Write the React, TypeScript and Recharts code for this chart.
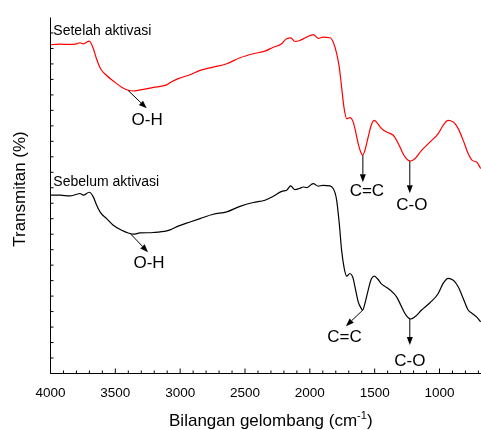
import React from 'react';
import { LineChart, Line, XAxis, YAxis, ReferenceLine, ReferenceDot } from 'recharts';

// Wavenumber (cm-1) sample positions
const wavenumbers = [
  4000, 3927, 3850, 3798, 3773, 3747, 3701, 3670, 3644, 3618, 3567, 3516, 3451, 3400, 3362, 3310,
  3207, 3104, 3066, 3015, 2924, 2847, 2745, 2641, 2539, 2436, 2346, 2282, 2217, 2179, 2148, 2115,
  2082, 2051, 2025, 1974, 1935, 1897, 1845, 1820, 1793, 1773, 1755, 1737, 1716, 1691, 1670, 1652,
  1627, 1608, 1593, 1575, 1550, 1524, 1503, 1480, 1446, 1408, 1357, 1331, 1305, 1274, 1241, 1223,
  1190, 1138, 1074, 1010, 972, 933, 894, 856, 817, 779, 748, 714, 683,
];

// "Setelah aktivasi" (after activation, red)
const setelah = [
  21.24, 21.28, 21.26, 21.3, 21.37, 21.3, 21.47, 21.0, 20.3, 19.75, 19.25, 18.9, 18.5, 18.3, 18.25, 18.32,
  18.48, 18.65, 18.85, 19.05, 19.3, 19.58, 19.79, 20.01, 20.4, 20.66, 20.83, 21.08, 21.3, 21.63, 21.69, 21.45,
  21.5, 21.62, 21.73, 21.9, 21.65, 21.73, 21.69, 21.41, 20.66, 19.79, 18.5, 17.21, 16.46, 16.53, 16.35, 15.82,
  14.85, 14.31, 14.1, 14.42, 15.28, 16.1, 16.35, 16.18, 15.82, 15.6, 15.39, 15.06, 14.63, 14.1, 13.77, 13.73,
  13.88, 14.42, 14.95, 15.5, 16.03, 16.35, 16.25, 15.82, 15.06, 14.21, 13.77, 13.66, 13.24,
];

// "Sebelum aktivasi" (before activation, black)
const sebelum = [
  11.52, 11.52, 11.47, 11.58, 11.63, 11.52, 11.71, 11.41, 10.87, 10.44, 10.01, 9.58, 9.26, 9.08, 9.0, 9.08,
  9.11, 9.21, 9.32, 9.52, 9.79, 10.01, 10.29, 10.44, 10.8, 11.05, 11.19, 11.45, 11.77, 11.84, 12.12, 11.88,
  11.95, 12.05, 12.01, 12.27, 12.1, 12.16, 12.12, 11.95, 11.19, 9.69, 7.97, 6.89, 6.29, 6.46, 6.25, 5.6,
  4.63, 4.27, 4.1, 4.53, 5.39, 6.14, 6.29, 6.14, 5.77, 5.56, 5.21, 4.95, 4.53, 3.99, 3.6, 3.52,
  3.66, 4.1, 4.57, 5.17, 5.82, 6.14, 6.03, 5.6, 4.85, 4.1, 3.88, 3.66, 3.34,
];

const majorTicks = [4000, 3500, 3000, 2500, 2000, 1500, 1000];
const xTicks: number[] = [];
for (let v = 4000; v >= 700; v -= 100) xTicks.push(v);
const yTicks: number[] = [];
for (let v = 1; v <= 22; v += 1) yTicks.push(v);

const arrowLabels = ['O-H', 'O-H', 'C=C', 'C-O', 'C=C', 'C-O'];
const arrowStart = [[3402, 18.29], [3387, 9.06], [1591, 14.1], [1229, 13.71], [1591, 4.1], [1229, 3.52]];
const arrowEnd = [[3258, 17.13], [3248, 7.84], [1591, 12.35], [1229, 11.65], [1722, 3.06], [1229, 1.84]];
const arrowTextAt = [[3255, 16.03], [3240, 6.81], [1560, 11.45], [1213, 10.55], [1733, 2.03], [1229, 0.48]];

const seriesNames = ['Setelah aktivasi', 'Sebelum aktivasi'];
const seriesNameAt = [[3978, 21.84], [3978, 12.1]];

const data = wavenumbers.map((w, i) => ({ w, setelah: setelah[i], sebelum: sebelum[i] }));

const FONT = '"Liberation Sans", Arial, Helvetica, sans-serif';

const BottomTick = (props: any) => {
  const { x, y, payload } = props;
  const major = majorTicks.includes(payload.value);
  return (
    <g>
      <line x1={x} y1={y} x2={x} y2={y - (major ? 5 : 3)} stroke="#000" strokeWidth={1} />
      {major && (
        <text x={x} y={y + 23} textAnchor="middle" fontSize={13.5} fontFamily={FONT} fill="#000">
          {payload.value}
        </text>
      )}
    </g>
  );
};

const TopTick = (props: any) => {
  const { x, y, payload } = props;
  const major = majorTicks.includes(payload.value);
  return <line x1={x} y1={y} x2={x} y2={y - (major ? 6 : 3)} stroke="#000" strokeWidth={1} />;
};

const LeftTick = (props: any) => {
  const { x, y } = props;
  return <line x1={x} y1={y} x2={x + 3} y2={y} stroke="#000" strokeWidth={1} />;
};

const ArrowShape = (props: any) => {
  const { x1, y1, x2, y2 } = props;
  const dx = x2 - x1;
  const dy = y2 - y1;
  const len = Math.hypot(dx, dy) || 1;
  const ux = dx / len;
  const uy = dy / len;
  const hl = 8;
  const hw = 3;
  const bx = x2 - ux * hl;
  const by = y2 - uy * hl;
  const pts = `${x2},${y2} ${bx - uy * hw},${by + ux * hw} ${bx + uy * hw},${by - ux * hw}`;
  return (
    <g>
      <line x1={x1} y1={y1} x2={bx} y2={by} stroke="#000" strokeWidth={1} />
      <polygon points={pts} fill="#000" />
    </g>
  );
};

const makeText = (text: string, anchor: string, size: number) => (props: any) => (
  <text x={props.cx} y={props.cy} textAnchor={anchor} fontSize={size} fontFamily={FONT} fill="#000">
    {text}
  </text>
);

export default function App() {
  return (
    <div style={{ position: 'fixed', top: 8, left: 8, width: 473, height: 422 }}>
      <LineChart
        width={473}
        height={422}
        data={data}
        margin={{ top: 9.5, right: 0, bottom: 0, left: 0 }}
        style={{ fontFamily: FONT }}
      >
        <XAxis
          dataKey="w"
          type="number"
          domain={[680, 4000]}
          reversed
          allowDataOverflow
          ticks={xTicks}
          interval={0}
          tickSize={0}
          tickMargin={0}
          tickLine={false}
          tick={<BottomTick />}
          height={56.5}
          axisLine={{ stroke: '#000', strokeWidth: 1 }}
          label={{
            content: () => (
              <text x={262.8} y={418} textAnchor="middle" fontSize={17} fontFamily={FONT} fill="#000">
                Bilangan gelombang (cm
                <tspan dy={-7} fontSize={11}>-1</tspan>
                <tspan dy={7}>)</tspan>
              </text>
            ),
          }}
        />
        <XAxis
          xAxisId="top"
          orientation="top"
          dataKey="w"
          type="number"
          domain={[680, 4000]}
          reversed
          allowDataOverflow
          ticks={xTicks}
          interval={0}
          tickSize={0}
          tickMargin={0}
          tickLine={false}
          tick={<TopTick />}
          height={0}
          axisLine={{ stroke: '#000', strokeWidth: 1 }}
        />
        <YAxis
          type="number"
          domain={[0, 23]}
          allowDataOverflow
          ticks={yTicks}
          interval={0}
          width={42.5}
          tickSize={0}
          tickMargin={0}
          tickLine={false}
          tick={<LeftTick />}
          axisLine={{ stroke: '#000', strokeWidth: 1 }}
          label={{
            content: () => (
              <text
                x={17}
                y={181}
                transform="rotate(-90 17 181)"
                textAnchor="middle"
                fontSize={17}
                fontFamily={FONT}
                fill="#000"
              >
                Transmitan (%)
              </text>
            ),
          }}
        />
        <Line
          type="monotone"
          dataKey="setelah"
          stroke="#ff0000"
          strokeWidth={1.2}
          dot={false}
          isAnimationActive={false}
        />
        <Line
          type="monotone"
          dataKey="sebelum"
          stroke="#000000"
          strokeWidth={1.2}
          dot={false}
          isAnimationActive={false}
        />
        {arrowLabels.map((lab, i) => (
          <ReferenceLine
            key={`arrow-${i}`}
            segment={[
              { x: arrowStart[i][0], y: arrowStart[i][1] },
              { x: arrowEnd[i][0], y: arrowEnd[i][1] },
            ]}
            shape={ArrowShape}
            ifOverflow="visible"
          />
        ))}
        {arrowLabels.map((lab, i) => (
          <ReferenceDot
            key={`lab-${i}`}
            x={arrowTextAt[i][0]}
            y={arrowTextAt[i][1]}
            r={0}
            ifOverflow="visible"
            shape={makeText(lab, 'middle', 17)}
          />
        ))}
        {seriesNames.map((name, i) => (
          <ReferenceDot
            key={`name-${i}`}
            x={seriesNameAt[i][0]}
            y={seriesNameAt[i][1]}
            r={0}
            ifOverflow="visible"
            shape={makeText(name, 'start', 14)}
          />
        ))}
      </LineChart>
    </div>
  );
}
